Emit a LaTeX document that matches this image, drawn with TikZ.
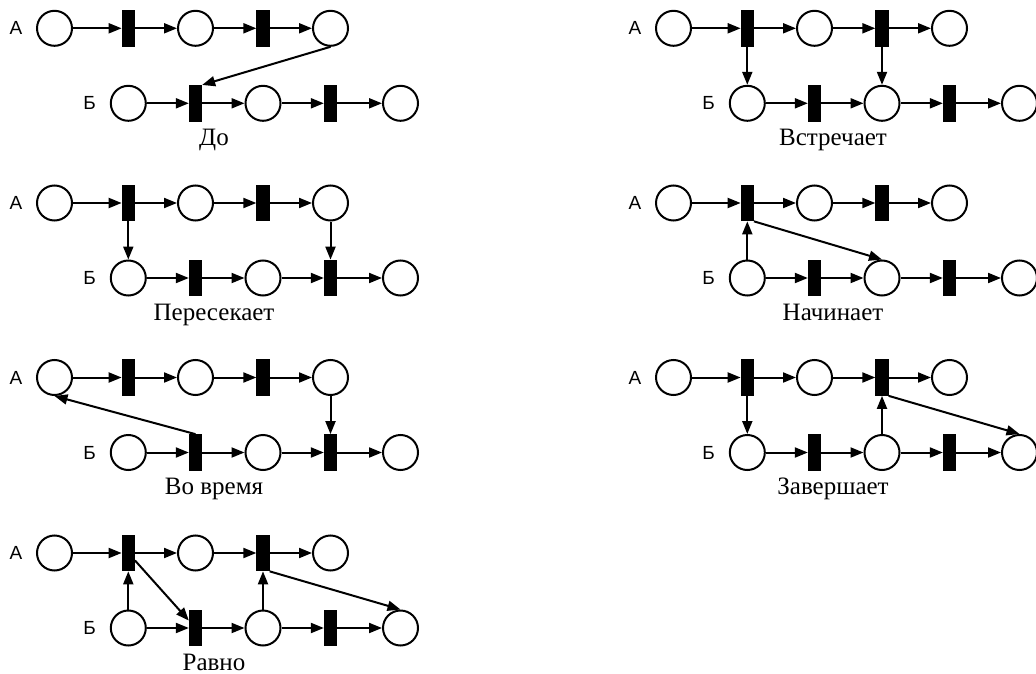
\documentclass[tikz,border=0pt]{standalone}
\usepackage{fontspec}
\setmainfont{Liberation Serif}
\newfontfamily\sansf{Liberation Sans}
\usetikzlibrary{arrows.meta}
\tikzset{
  pplace/.style={circle,draw=black,line width=2pt,minimum size=35pt,inner sep=0pt,fill=white},
  ptrans/.style={rectangle,fill=black,draw=none,minimum width=13.3pt,minimum height=36.7pt,inner sep=0pt,outer sep=0pt},
  lbl/.style={font=\sansf\fontsize{19}{21}\selectfont,inner sep=0pt},
  panellabel/.style={font=\fontsize{25}{28}\selectfont,inner sep=0pt,anchor=base},
  arr/.style={line width=2pt,-{Triangle[length=13pt,width=10pt]}}
}
\newcommand\pnpanel[4]{%
 \begin{scope}[shift={(#2,-#3)}]
  \node[lbl] (#1la) at (16,0) {А};
  \node[pplace] (#1a0) at (54.5,0) {};
  \node[ptrans] (#1a1) at (128.3,0) {};
  \node[pplace] (#1a2) at (195.5,0) {};
  \node[ptrans] (#1a3) at (263,0) {};
  \node[pplace] (#1a4) at (330.5,0) {};
  \node[lbl] (#1lb) at (89.5,-75) {Б};
  \node[pplace] (#1b1) at (128.3,-75) {};
  \node[ptrans] (#1b2) at (195.5,-75) {};
  \node[pplace] (#1b3) at (263,-75) {};
  \node[ptrans] (#1b4) at (330.5,-75) {};
  \node[pplace] (#1b5) at (400.5,-75) {};
  \node[panellabel] (#1cap) at (214,-117) {#4};
  \draw[arr] (#1a0) -- (#1a1);
  \draw[arr] (#1a1) -- (#1a2);
  \draw[arr] (#1a2) -- (#1a3);
  \draw[arr] (#1a3) -- (#1a4);
  \draw[arr] (#1b1) -- (#1b2);
  \draw[arr] (#1b2) -- (#1b3);
  \draw[arr] (#1b3) -- (#1b4);
  \draw[arr] (#1b4) -- (#1b5);
 \end{scope}}
\begin{document}
\begin{tikzpicture}[x=1pt,y=1pt]
\useasboundingbox (0,0) rectangle (1036,-674);
\pnpanel{L0}{0}{28.3}{До}
\pnpanel{L1}{0}{203}{Пересекает}
\pnpanel{L2}{0}{377.5}{Во время}
\pnpanel{L3}{0}{553}{Равно}
\pnpanel{R0}{619}{28.3}{Встречает}
\pnpanel{R1}{619}{203}{Начинает}
\pnpanel{R2}{619}{377.5}{Завершает}
% До
\draw[arr] (L0a4.south) -- (L0b2.north east);
% Пересекает
\draw[arr] (L1a1) -- (L1b1);
\draw[arr] (L1a4) -- (L1b4);
% Во время
\draw[arr] (L2b2.north) -- (L2a0.south);
\draw[arr] (L2a4) -- (L2b4);
% Равно
\draw[arr] (L3b1) -- (L3a1);
\draw[arr] (L3a1) -- (L3b2);
\draw[arr] (L3b3) -- (L3a3);
\draw[arr] (L3a3.south east) -- (L3b5.north);
% Встречает
\draw[arr] (R0a1) -- (R0b1);
\draw[arr] (R0a3) -- (R0b3);
% Начинает
\draw[arr] (R1b1) -- (R1a1);
\draw[arr] (R1a1.south east) -- (R1b3.north);
% Завершает
\draw[arr] (R2a1) -- (R2b1);
\draw[arr] (R2b3) -- (R2a3);
\draw[arr] (R2a3.south east) -- (R2b5.north);
\end{tikzpicture}
\end{document}
